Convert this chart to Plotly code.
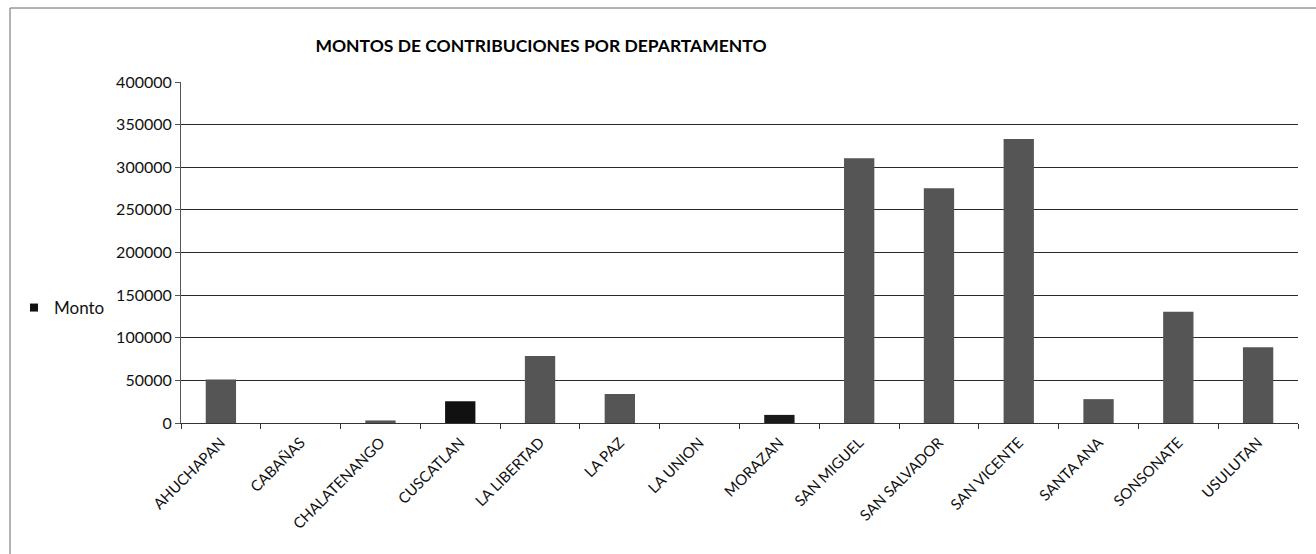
import plotly.graph_objects as go

departamentos = ["AHUCHAPAN", "CABAÑAS", "CHALATENANGO", "CUSCATLAN", "LA LIBERTAD",
                 "LA PAZ", "LA UNION", "MORAZAN", "SAN MIGUEL", "SAN SALVADOR",
                 "SAN VICENTE", "SANTA ANA", "SONSONATE", "USULUTAN"]
montos = [51000, 0, 3000, 25500, 78500, 34000, 0, 9500, 310500, 275500,
          333000, 28000, 130500, 89000]
y_ticks = [0, 50000, 100000, 150000, 200000, 250000, 300000, 350000, 400000]

bar_colors = ["#555555"] * len(departamentos)
bar_colors[3] = "#111111"
bar_colors[7] = "#1a1a1a"

FONT = "Lato, 'Open Sans', sans-serif"

fig = go.Figure()
fig.add_trace(go.Bar(
    x=departamentos, y=montos, name="Monto",
    marker=dict(color=bar_colors, line=dict(width=0)),
    showlegend=False,
))
# legend entry drawn as a small black square, as in the reference
fig.add_trace(go.Scatter(
    x=[None], y=[None], name="Monto", mode="markers",
    marker=dict(symbol="square", size=8, color="#111111"),
    showlegend=True, hoverinfo="skip",
))

L, R, T, B = 181, 18, 82, 131
W, H = 1316, 554
pw = W - L - R
ph = H - T - B

fig.update_layout(
    width=W, height=H,
    margin=dict(l=L, r=R, t=T, b=B, autoexpand=False),
    paper_bgcolor="white", plot_bgcolor="white",
    font=dict(family=FONT, size=15, color="#111111"),
    title=dict(text="<b>MONTOS DE CONTRIBUCIONES POR DEPARTAMENTO</b>",
               x=541 / W, xanchor="center", y=1 - 46 / H, yanchor="middle",
               font=dict(family=FONT, size=17.5, color="#000000")),
    bargap=0.62,
    showlegend=True,
    legend=dict(xref="container", yref="container", x=14 / W, y=1 - 308 / H,
                xanchor="left", yanchor="middle", bgcolor="rgba(0,0,0,0)",
                font=dict(family=FONT, size=17, color="#111111"),
                itemwidth=30),
    xaxis=dict(
        tickangle=-45, showgrid=False, showline=True, linecolor="#333333",
        linewidth=1, ticks="outside", tickson="boundaries", ticklen=5,
        tickcolor="#333333", tickfont=dict(family=FONT, size=15, color="#111111"),
        ticklabelstandoff=4,
    ),
    yaxis=dict(
        range=[0, 400000], tickvals=y_ticks, ticktext=[str(v) for v in y_ticks],
        showgrid=True, gridcolor="#2a2a2a", gridwidth=1,
        showline=True, linecolor="#555555", linewidth=1,
        ticks="outside", ticklen=5, tickcolor="#555555",
        tickfont=dict(family=FONT, size=16, color="#111111"), zeroline=False,
    ),
)

# outer chart border (top and left edges visible in the reference)
x_left = (10 - L) / pw
y_top = (H - B - 8) / ph
fig.add_shape(type="line", xref="paper", yref="paper", x0=x_left, x1=(W - L + 5) / pw,
              y0=y_top, y1=y_top, line=dict(color="#666666", width=1))
fig.add_shape(type="line", xref="paper", yref="paper", x0=x_left, x1=x_left,
              y0=y_top, y1=-B / ph - 0.05, line=dict(color="#666666", width=1))

fig.write_html("out.html", config={"displayModeBar": False})

# remove the browser's default body margin so the figure sits at the page origin
with open("out.html", "r", encoding="utf-8") as f:
    html = f.read()
html = html.replace("<body>", '<body style="margin:0;overflow:hidden">', 1)
with open("out.html", "w", encoding="utf-8") as f:
    f.write(html)
